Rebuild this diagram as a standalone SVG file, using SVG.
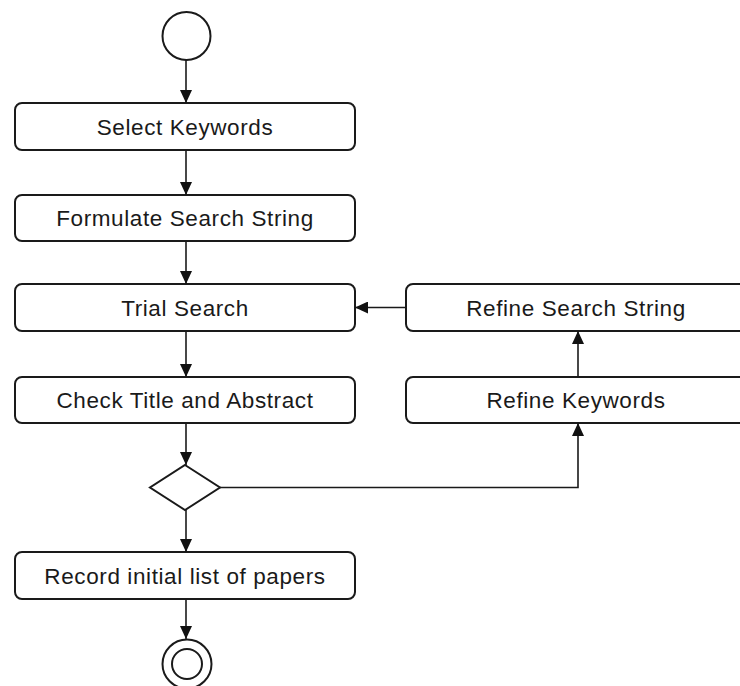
<svg xmlns="http://www.w3.org/2000/svg" width="740" height="686" viewBox="0 0 740 686">
  <style>
    .box { fill: #ffffff; stroke: #1a1a1a; stroke-width: 2; }
    .label { font-family: "Liberation Sans", Arial, sans-serif; font-size: 22.5px; letter-spacing: 0.6px; fill: #1a1a1a; text-anchor: middle; }
    .edge { fill: none; stroke: #1a1a1a; stroke-width: 1.6; }
  </style>
  <defs>
    <marker id="arrow" markerUnits="userSpaceOnUse" markerWidth="13" markerHeight="12" refX="13" refY="6" orient="auto">
      <path d="M0,0 L13,6 L0,12 Z" fill="#111111"/>
    </marker>
  </defs>
  <rect width="740" height="686" fill="#ffffff"/>

  <!-- start / end states -->
  <g id="start">
    <circle cx="186.5" cy="36" r="24" class="box"/>
  </g>
  <g id="end">
    <circle cx="187" cy="664" r="24.5" class="box"/>
    <circle cx="187" cy="664" r="15" class="box"/>
  </g>

  <!-- activities -->
  <g id="select-keywords">
    <rect x="15" y="103" width="340" height="47" rx="7" class="box"/>
    <text x="185" y="135" class="label">Select Keywords</text>
  </g>
  <g id="formulate-search-string">
    <rect x="15" y="195" width="340" height="46" rx="7" class="box"/>
    <text x="185" y="226" class="label">Formulate Search String</text>
  </g>
  <g id="trial-search">
    <rect x="15" y="284" width="340" height="47" rx="7" class="box"/>
    <text x="185" y="316" class="label">Trial Search</text>
  </g>
  <g id="check-title-abstract">
    <rect x="15" y="377" width="340" height="46" rx="7" class="box"/>
    <text x="185" y="408" class="label">Check Title and Abstract</text>
  </g>
  <g id="record-papers">
    <rect x="15" y="552" width="340" height="47" rx="7" class="box"/>
    <text x="185" y="584" class="label">Record initial list of papers</text>
  </g>
  <g id="refine-search-string">
    <rect x="406" y="284" width="340" height="47" rx="7" class="box"/>
    <text x="576" y="316" class="label">Refine Search String</text>
  </g>
  <g id="refine-keywords">
    <rect x="406" y="377" width="340" height="46" rx="7" class="box"/>
    <text x="576" y="408" class="label">Refine Keywords</text>
  </g>

  <!-- decision -->
  <g id="decision">
    <polygon points="185,465 220,487.5 185,510 150,487.5" class="box"/>
  </g>

  <!-- flow connectors -->
  <g id="connectors">
    <line x1="186" y1="60" x2="186" y2="103" class="edge" marker-end="url(#arrow)"/>
    <line x1="186" y1="150" x2="186" y2="195" class="edge" marker-end="url(#arrow)"/>
    <line x1="186" y1="241" x2="186" y2="284" class="edge" marker-end="url(#arrow)"/>
    <line x1="186" y1="331" x2="186" y2="377" class="edge" marker-end="url(#arrow)"/>
    <line x1="186" y1="423" x2="186" y2="465" class="edge" marker-end="url(#arrow)"/>
    <line x1="186" y1="510" x2="186" y2="552" class="edge" marker-end="url(#arrow)"/>
    <line x1="186" y1="599" x2="186" y2="639" class="edge" marker-end="url(#arrow)"/>
    <polyline points="220,487.5 578,487.5 578,423" class="edge" marker-end="url(#arrow)"/>
    <line x1="578" y1="377" x2="578" y2="331" class="edge" marker-end="url(#arrow)"/>
    <line x1="406" y1="307.5" x2="355" y2="307.5" class="edge" marker-end="url(#arrow)"/>
  </g>
</svg>
